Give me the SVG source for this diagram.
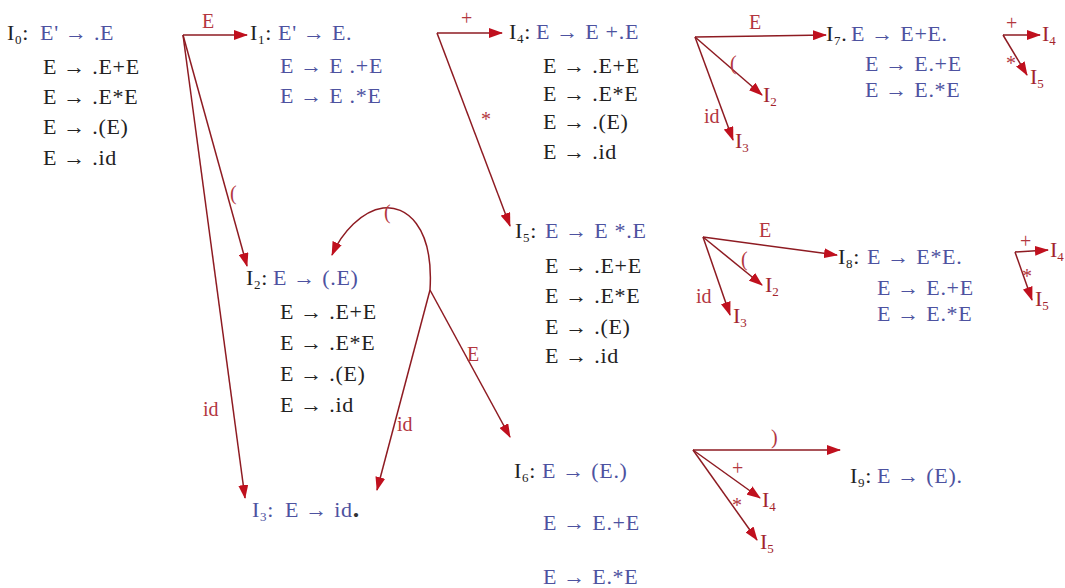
<svg xmlns="http://www.w3.org/2000/svg" width="1065" height="588" viewBox="0 0 1065 588">
<defs>
<style>
text{font-family:"Liberation Serif","Times New Roman",serif;font-size:22px;letter-spacing:0.7px}
.b{fill:#4d52a0}
.k{fill:#222}
.lb{fill:#b3373f;font-size:20px;letter-spacing:0}
.rf{fill:#a3242c;letter-spacing:0}
.c{stroke:#8e1b22;stroke-width:1.5;fill:none;marker-end:url(#ah)}
</style>
<marker id="ah" viewBox="0 0 14 10" refX="13" refY="5" markerWidth="14" markerHeight="10" markerUnits="userSpaceOnUse" orient="auto">
<path d="M0,0 L14,5 L0,10 z" fill="#c0101e"/>
</marker>
</defs>
<rect width="1065" height="588" fill="#fff"/>

<g id="connectors">
<line class="c" x1="183" y1="35" x2="247" y2="35"/>
<line class="c" x1="183" y1="35" x2="247" y2="266"/>
<line class="c" x1="183" y1="35" x2="245" y2="498"/>
<line class="c" x1="437" y1="33" x2="502" y2="33"/>
<line class="c" x1="437" y1="33" x2="510" y2="226"/>
<line class="c" x1="695" y1="37" x2="826" y2="35"/>
<line class="c" x1="695" y1="37" x2="762" y2="95"/>
<line class="c" x1="695" y1="37" x2="733" y2="140"/>
<line class="c" x1="1003" y1="35" x2="1040" y2="35"/>
<line class="c" x1="1003" y1="35" x2="1027" y2="75"/>
<line class="c" x1="703" y1="237" x2="837" y2="255"/>
<line class="c" x1="703" y1="237" x2="762" y2="285"/>
<line class="c" x1="703" y1="237" x2="730" y2="315"/>
<line class="c" x1="1015" y1="252" x2="1048" y2="250"/>
<line class="c" x1="1015" y1="252" x2="1032" y2="300"/>
<path class="c" d="M430,290 C434,225 405,205 383,208 C362,211 342,232 332,255"/>
<line class="c" x1="430" y1="290" x2="510" y2="437"/>
<line class="c" x1="430" y1="290" x2="377" y2="490"/>
<line class="c" x1="693" y1="450" x2="840" y2="450"/>
<line class="c" x1="693" y1="450" x2="760" y2="498"/>
<line class="c" x1="693" y1="450" x2="757" y2="540"/>

<text class="lb" x="202" y="28">E</text>
<text class="lb" x="230" y="200">(</text>
<text class="lb" x="203" y="416">id</text>
<text class="lb" x="461" y="25">+</text>
<text class="lb" x="481" y="126">*</text>
<text class="lb" x="749" y="29">E</text>
<text class="lb" x="730" y="70">(</text>
<text class="lb" x="704" y="123">id</text>
<text class="lb" x="1006" y="30">+</text>
<text class="lb" x="1006" y="70">*</text>
<text class="lb" x="759" y="237">E</text>
<text class="lb" x="741" y="266">(</text>
<text class="lb" x="696" y="303">id</text>
<text class="lb" x="1020" y="248">+</text>
<text class="lb" x="1022" y="283">*</text>
<text class="lb" x="384" y="219">(</text>
<text class="lb" x="467" y="361">E</text>
<text class="lb" x="397" y="431">id</text>
<text class="lb" x="771" y="444">)</text>
<text class="lb" x="732" y="475">+</text>
<text class="lb" x="732" y="512">*</text>

<text class="rf" x="763" y="102">I<tspan font-size="13" dy="4">2</tspan></text>
<text class="rf" x="735" y="148">I<tspan font-size="13" dy="4">3</tspan></text>
<text class="rf" x="1042" y="41">I<tspan font-size="13" dy="4">4</tspan></text>
<text class="rf" x="1030" y="84">I<tspan font-size="13" dy="4">5</tspan></text>
<text class="rf" x="765" y="292">I<tspan font-size="13" dy="4">2</tspan></text>
<text class="rf" x="733" y="323">I<tspan font-size="13" dy="4">3</tspan></text>
<text class="rf" x="1050" y="257">I<tspan font-size="13" dy="4">4</tspan></text>
<text class="rf" x="1035" y="306">I<tspan font-size="13" dy="4">5</tspan></text>
<text class="rf" x="762" y="507">I<tspan font-size="13" dy="4">4</tspan></text>
<text class="rf" x="760" y="549">I<tspan font-size="13" dy="4">5</tspan></text>
</g>

<g id="I0">
<text class="k" x="7" y="40">I<tspan font-size="13" dy="4">0</tspan><tspan dy="-4">:</tspan></text>
<text class="b" x="40" y="40">E' → .E</text>
<text class="k" x="43" y="74">E → .E+E</text>
<text class="k" x="43" y="104">E → .E*E</text>
<text class="k" x="43" y="134">E → .(E)</text>
<text class="k" x="43" y="165">E → .id</text>
</g>

<g id="I1">
<text class="k" x="250" y="40">I<tspan font-size="13" dy="4">1</tspan><tspan dy="-4">:</tspan></text>
<text class="b" x="278" y="40">E' → E.</text>
<text class="b" x="280" y="73">E → E .+E</text>
<text class="b" x="280" y="103">E → E .*E</text>
</g>

<g id="I4">
<text class="k" x="509" y="39">I<tspan font-size="13" dy="4">4</tspan><tspan dy="-4">:</tspan></text>
<text class="b" x="536" y="39">E → E +.E</text>
<text class="k" x="543" y="73">E → .E+E</text>
<text class="k" x="543" y="101">E → .E*E</text>
<text class="k" x="543" y="129">E → .(E)</text>
<text class="k" x="543" y="159">E → .id</text>
</g>

<g id="I7">
<text class="k" x="826" y="41">I<tspan font-size="13" dy="4">7</tspan><tspan dy="-4">.</tspan></text>
<text class="b" x="851" y="41">E → E+E.</text>
<text class="b" x="865" y="71">E → E.+E</text>
<text class="b" x="865" y="97">E → E.*E</text>
</g>

<g id="I5">
<text class="k" x="515" y="238">I<tspan font-size="13" dy="4">5</tspan><tspan dy="-4">:</tspan></text>
<text class="b" x="545" y="238">E → E *.E</text>
<text class="k" x="545" y="273">E → .E+E</text>
<text class="k" x="545" y="303">E → .E*E</text>
<text class="k" x="545" y="334">E → .(E)</text>
<text class="k" x="545" y="363">E → .id</text>
</g>

<g id="I8">
<text class="k" x="838" y="264">I<tspan font-size="13" dy="4">8</tspan><tspan dy="-4">:</tspan></text>
<text class="b" x="867" y="264">E → E*E.</text>
<text class="b" x="877" y="295">E → E.+E</text>
<text class="b" x="877" y="321">E → E.*E</text>
</g>

<g id="I2">
<text class="k" x="246" y="285">I<tspan font-size="13" dy="4">2</tspan><tspan dy="-4">:</tspan></text>
<text class="b" x="273" y="285">E → (.E)</text>
<text class="k" x="280" y="319">E → .E+E</text>
<text class="k" x="280" y="350">E → .E*E</text>
<text class="k" x="280" y="381">E → .(E)</text>
<text class="k" x="280" y="412">E → .id</text>
</g>

<g id="I3">
<text class="b" x="252" y="517">I<tspan font-size="13" dy="4">3</tspan><tspan dy="-4">:</tspan></text>
<text class="b" x="285" y="517">E → id<tspan font-weight="bold" font-size="26" fill="#333">.</tspan></text>
</g>

<g id="I6">
<text class="k" x="514" y="478">I<tspan font-size="13" dy="4">6</tspan><tspan dy="-4">:</tspan></text>
<text class="b" x="542" y="478">E → (E.)</text>
<text class="b" x="543" y="530">E → E.+E</text>
<text class="b" x="543" y="584">E → E.*E</text>
</g>

<g id="I9">
<text class="k" x="850" y="483">I<tspan font-size="13" dy="4">9</tspan><tspan dy="-4">:</tspan></text>
<text class="b" x="877" y="483">E → (E).</text>
</g>
</svg>
